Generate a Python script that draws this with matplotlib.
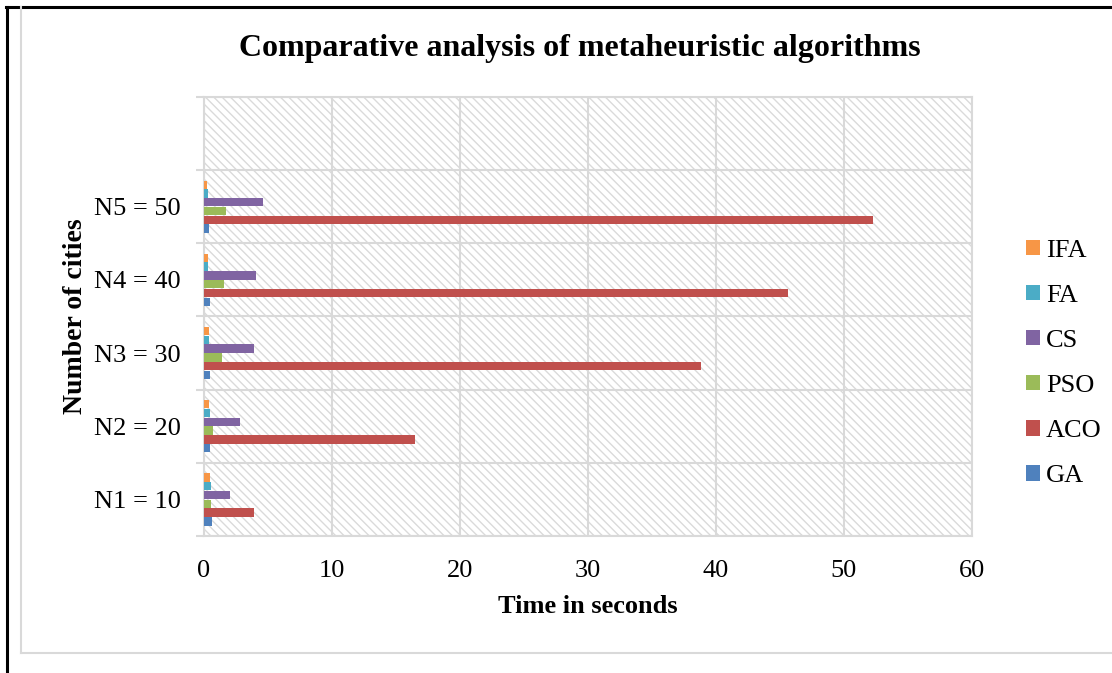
import matplotlib.pyplot as plt
import numpy as np
from matplotlib.lines import Line2D
from matplotlib.patches import Rectangle

plt.rcParams['font.family'] = ['Liberation Serif', 'DejaVu Serif']
plt.rcParams['hatch.linewidth'] = 1.0

# data (seconds)
categories = ['N1 = 10', 'N2 = 20', 'N3 = 30', 'N4 = 40', 'N5 = 50', '']
series = ['GA', 'ACO', 'PSO', 'CS', 'FA', 'IFA']
ga = [0.6, 0.5, 0.45, 0.45, 0.4]
aco = [3.9, 16.5, 38.8, 45.6, 52.3]
pso = [0.55, 0.73, 1.38, 1.53, 1.69]
cs = [2.03, 2.8, 3.93, 4.03, 4.6]
fa = [0.55, 0.48, 0.42, 0.34, 0.3]
ifa = [0.45, 0.42, 0.36, 0.3, 0.25]
colors = ['#4F81BD', '#C0504D', '#9BBB59', '#8064A2', '#4BACC6', '#F79646']

values = [ga, aco, pso, cs, fa, ifa]

fig = plt.figure(figsize=(11.12, 6.73), dpi=100)
ax = fig.add_axes([0.1835, 0.2036, 0.6905, 0.6524])

# hatched plot background
bg = Rectangle((0, 0), 1, 1, transform=ax.transAxes, facecolor='white',
               edgecolor='#DADADA', hatch='\\\\\\\\', linewidth=0, zorder=0)
ax.add_patch(bg)

step = 0.12
idx = np.arange(len(ga))
for j, (name, vals, c) in enumerate(zip(series, values, colors)):
    ax.barh(idx + (j - 2.5) * step, vals, height=0.115, color=c, label=name, zorder=3)

ax.set_xlim(0, 60)
ax.set_ylim(-0.5, len(categories) - 0.5)
ax.set_xticks(range(0, 61, 10))
ax.set_yticks(range(len(categories)))
ax.set_yticklabels(categories)
ax.set_yticks(np.arange(-0.5, len(categories), 1), minor=True)
ax.tick_params(axis='y', which='major', length=0, labelsize=19, pad=17)
ax.tick_params(axis='y', which='minor', length=6, color='#D9D9D9', width=1.5)
ax.tick_params(axis='x', length=0, labelsize=19, pad=17)
ax.grid(True, axis='x', color='#D9D9D9', linewidth=1.5, zorder=1)
ax.grid(True, axis='y', which='minor', color='#D9D9D9', linewidth=1.5, zorder=1)
ax.set_axisbelow(True)
for s in ax.spines.values():
    s.set_color('#D9D9D9')
    s.set_linewidth(1.5)

ax.set_xlabel('Time in seconds', fontsize=19, fontweight='bold', labelpad=10)
ax.set_ylabel('Number of cities', fontsize=20, fontweight='bold', labelpad=4)
fig.text(0.5215, 0.928, 'Comparative analysis of metaheuristic algorithms',
         ha='center', va='center', fontsize=23, fontweight='bold')

h, l = ax.get_legend_handles_labels()
ax.legend(h[::-1], l[::-1], loc='center left', bbox_to_anchor=(0.9227, 0.460),
          bbox_transform=fig.transFigure, frameon=False, fontsize=19,
          handlelength=0.53, handleheight=0.53, handletextpad=0.22, labelspacing=0.87,
          borderpad=0, borderaxespad=0)

# page frame and chart border
fig.add_artist(Line2D([0.0054, 1], [0.9896, 0.9896], color='black', linewidth=2.2, transform=fig.transFigure))
fig.add_artist(Line2D([0.0063, 0.0063], [0, 0.9896], color='black', linewidth=2.2, transform=fig.transFigure))
fig.add_artist(Line2D([0.019, 0.019], [0.0297, 0.9896], color='#D9D9D9', linewidth=1.5, transform=fig.transFigure))
fig.add_artist(Line2D([0.019, 1], [0.0297, 0.0297], color='#D9D9D9', linewidth=1.5, transform=fig.transFigure))

fig.savefig('out.png', dpi=100)
